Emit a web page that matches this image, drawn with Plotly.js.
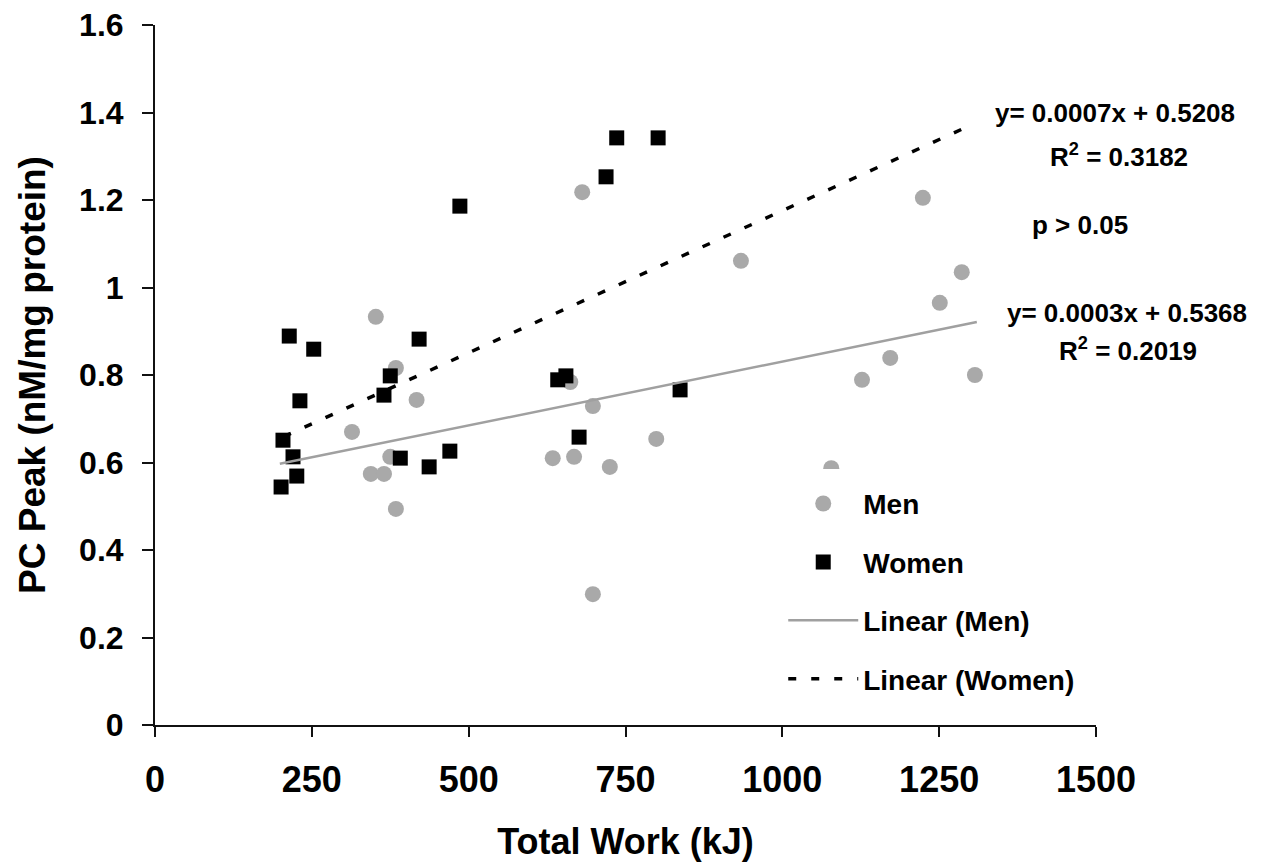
<!DOCTYPE html>
<html>
<head>
<meta charset="utf-8">
<script src="https://cdn.plot.ly/plotly-3.0.1.min.js"></script>
<style>html,body{margin:0;padding:0;background:#fff;}#chart{width:1268px;height:866px;}</style>
</head>
<body>
<div id="chart"></div>
<script>
// Men (grey circles)
var menX = [352, 384, 417, 314, 375, 344, 365, 384, 662, 634, 668, 681, 698, 725, 799, 698, 934, 1078, 1127, 1172, 1224, 1251, 1286, 1307];
var menY = [0.933, 0.816, 0.743, 0.670, 0.613, 0.574, 0.574, 0.494, 0.784, 0.610, 0.613, 1.218, 0.729, 0.590, 0.654, 0.299, 1.061, 0.587, 0.789, 0.839, 1.205, 0.965, 1.035, 0.800];
// Women (black squares)
var womenX = [201, 204, 214, 220, 226, 231, 253, 365, 375, 391, 421, 437, 470, 486, 642, 655, 676, 719, 736, 802, 837];
var womenY = [0.544, 0.651, 0.889, 0.613, 0.569, 0.741, 0.859, 0.754, 0.798, 0.610, 0.882, 0.590, 0.626, 1.186, 0.789, 0.798, 0.658, 1.253, 1.342, 1.342, 0.766];
// Linear trend lines (end points)
var menTrendX = [199, 1310];
var menTrendY = [0.597, 0.921];
var womenTrendX = [205, 1305];
var womenTrendY = [0.659, 1.374];
// Axis ticks
var xTicks = [0, 250, 500, 750, 1000, 1250, 1500];
var yTicks = [0, 0.2, 0.4, 0.6, 0.8, 1.0, 1.2, 1.4, 1.6];
var yTickText = ['0', '0.2', '0.4', '0.6', '0.8', '1', '1.2', '1.4', '1.6'];
// Texts
var seriesNames = ['Men', 'Women', 'Linear (Men)', 'Linear (Women)'];
var annoTexts = ['y= 0.0007x + 0.5208', 'R<sup>2</sup> = 0.3182', 'p &gt; 0.05', 'y= 0.0003x + 0.5368', 'R<sup>2</sup> = 0.2019'];

var FONT = '"Liberation Sans", Arial, sans-serif';

var traces = [
  {x: menX, y: menY, type: 'scatter', mode: 'markers', name: seriesNames[0], legendgroup: 'a',
   marker: {symbol: 'circle', size: 16, color: '#a9a9a9'}, cliponaxis: false},
  {x: womenX, y: womenY, type: 'scatter', mode: 'markers', name: seriesNames[1], legendgroup: 'b',
   marker: {symbol: 'square', size: 15, color: '#000000'}, cliponaxis: false},
  {x: menTrendX, y: menTrendY, type: 'scatter', mode: 'lines', name: seriesNames[2], legendgroup: 'c',
   line: {color: '#a0a0a0', width: 2.5}},
  {x: womenTrendX, y: womenTrendY, type: 'scatter', mode: 'lines', name: seriesNames[3], legendgroup: 'd',
   line: {color: '#000000', width: 3.5, dash: '8px,15px'}}
];

var annPos = [[1.020, 0.874], [1.0245, 0.814], [0.983, 0.714], [1.033, 0.589], [1.034, 0.536]];
var annotations = annoTexts.map(function (t, i) {
  return {text: t, xref: 'paper', yref: 'paper', x: annPos[i][0], y: annPos[i][1],
    xanchor: 'center', yanchor: 'middle', showarrow: false,
    font: {family: FONT, size: 26, color: '#000', weight: 700}};
});

var layout = {
  width: 1268, height: 866,
  margin: {l: 155, r: 172, t: 25, b: 141},
  paper_bgcolor: '#ffffff', plot_bgcolor: '#ffffff',
  showlegend: true,
  legend: {x: 0.657, y: 0.366, xanchor: 'left', yanchor: 'top', bgcolor: '#ffffff',
    bordercolor: '#ffffff', borderwidth: 10,
    font: {family: FONT, size: 28, color: '#000', weight: 700},
    traceorder: 'grouped', tracegroupgap: 19, itemwidth: 70},
  xaxis: {range: [0, 1500], tickvals: xTicks, ticktext: xTicks.map(String),
    showgrid: false, zeroline: false, showline: true, linecolor: '#111', linewidth: 2,
    ticks: 'outside', ticklen: 10, tickwidth: 2, tickcolor: '#111', ticklabelstandoff: 12,
    tickfont: {family: FONT, size: 36, color: '#000', weight: 700},
    title: {text: 'Total Work (kJ)', standoff: 30, font: {family: FONT, size: 36, color: '#000', weight: 700}}},
  yaxis: {range: [0, 1.6], tickvals: yTicks, ticktext: yTickText,
    showgrid: false, zeroline: false, showline: true, linecolor: '#111', linewidth: 2,
    ticks: 'outside', ticklen: 11, tickwidth: 2, tickcolor: '#111', ticklabelstandoff: 12,
    tickfont: {family: FONT, size: 32, color: '#000', weight: 700},
    title: {text: 'PC Peak (nM/mg protein)', standoff: 22, font: {family: FONT, size: 37, color: '#000', weight: 700}}},
  annotations: annotations
};

Plotly.newPlot('chart', traces, layout, {staticPlot: true, displayModeBar: false});
</script>
</body>
</html>
